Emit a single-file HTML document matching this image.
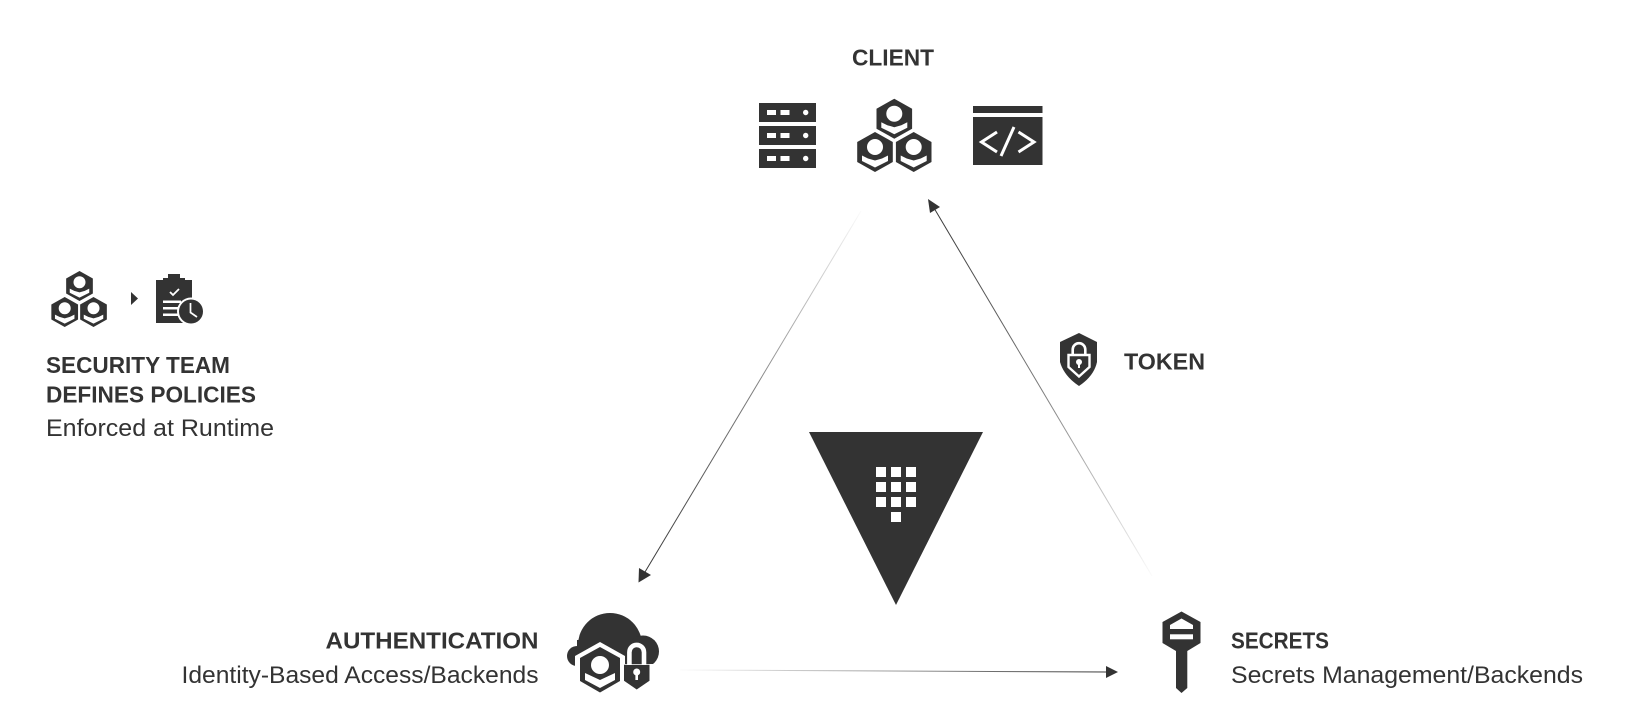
<!DOCTYPE html>
<html>
<head>
<meta charset="utf-8">
<style>
html,body{margin:0;padding:0;background:#fff;width:1627px;height:714px;overflow:hidden}
svg{display:block}
text{font-family:"Liberation Sans",sans-serif;fill:#333}
.b{font-weight:bold;font-size:23px}
.r{font-size:24px}
</style>
</head>
<body>
<svg width="1627" height="714" viewBox="0 0 1627 714" xmlns="http://www.w3.org/2000/svg">
<defs>
<linearGradient id="g1" gradientUnits="userSpaceOnUse" x1="861" y1="211" x2="639" y2="581"><stop offset="0" stop-color="#333" stop-opacity="0.02"/><stop offset="0.5" stop-color="#333" stop-opacity="0.65"/><stop offset="1" stop-color="#333"/></linearGradient>
<linearGradient id="g2" gradientUnits="userSpaceOnUse" x1="1152" y1="576" x2="929" y2="199"><stop offset="0" stop-color="#333" stop-opacity="0.02"/><stop offset="0.5" stop-color="#333" stop-opacity="0.65"/><stop offset="1" stop-color="#333"/></linearGradient>
<linearGradient id="g3" gradientUnits="userSpaceOnUse" x1="680" y1="670" x2="1118" y2="672"><stop offset="0" stop-color="#333" stop-opacity="0.02"/><stop offset="0.5" stop-color="#333" stop-opacity="0.5"/><stop offset="1" stop-color="#333"/></linearGradient>
<g id="hex">
<polygon points="0,-20 17.8,-10 17.8,10 0,20 -17.8,10 -17.8,-10" fill="#333"/>
<circle cx="0" cy="-5" r="8" fill="#fff"/>
<polygon points="-13,3.500 -7,6.500 0,8.500 7,6.500 13,3.500 13,9 0,15.500 -13,9" fill="#fff"/>
</g>
</defs>

<!-- connectors -->
<line x1="861" y1="211" x2="645" y2="572" stroke="url(#g1)" stroke-width="1"/>
<polygon points="638.500,582.500 639,568 651,575" fill="#333"/>
<line x1="1152" y1="576" x2="934" y2="208" stroke="url(#g2)" stroke-width="1"/>
<polygon points="928,199 940,207 930,213" fill="#333"/>
<line x1="680" y1="670" x2="1108" y2="672" stroke="url(#g3)" stroke-width="1"/>
<polygon points="1118,672 1106,666 1106,678" fill="#333"/>

<!-- client -->
<text class="b" x="852" y="65.500" textLength="82" lengthAdjust="spacingAndGlyphs">CLIENT</text>
<g fill="#333">
<rect x="759" y="103" width="57" height="19"/>
<rect x="759" y="126" width="57" height="19"/>
<rect x="759" y="149" width="57" height="19"/>
</g>
<g fill="#fff">
<rect x="767" y="110" width="9" height="5"/><rect x="780.500" y="110" width="9" height="5"/><circle cx="805.700" cy="112.500" r="2.700"/>
<rect x="767" y="133" width="9" height="5"/><rect x="780.500" y="133" width="9" height="5"/><circle cx="805.700" cy="135.500" r="2.700"/>
<rect x="767" y="156" width="9" height="5"/><rect x="780.500" y="156" width="9" height="5"/><circle cx="805.700" cy="158.500" r="2.700"/>
</g>
<use href="#hex" transform="translate(894.300,118.700)"/>
<use href="#hex" transform="translate(875,152)"/>
<use href="#hex" transform="translate(913.700,152)"/>
<rect x="973" y="106" width="69.500" height="7" fill="#333"/>
<rect x="973" y="117" width="69.500" height="48" fill="#333"/>
<g fill="none" stroke="#fff" stroke-width="3">
<polyline points="997,132 981.500,142 997,152"/>
<polyline points="1018.500,132 1034,142 1018.500,152"/>
<line x1="1014" y1="127" x2="1001" y2="156"/>
</g>

<!-- left policy group -->
<use href="#hex" transform="translate(79.500,286) scale(.75)"/>
<use href="#hex" transform="translate(64.700,312) scale(.75)"/>
<use href="#hex" transform="translate(93.500,312) scale(.75)"/>
<polygon points="131,292 138,298.500 131,305" fill="#333"/>
<rect x="156" y="280" width="36" height="43" fill="#333"/>
<rect x="168" y="274" width="12" height="6" fill="#333"/>
<rect x="163" y="278" width="22" height="5" fill="#333"/>
<polyline points="170,292 173,295 179,289" fill="none" stroke="#fff" stroke-width="1.800"/>
<rect x="163" y="300.500" width="18" height="2.500" fill="#fff"/>
<rect x="163" y="307" width="15" height="2.500" fill="#fff"/>
<rect x="163" y="313.500" width="15" height="2.500" fill="#fff"/>
<circle cx="191" cy="311.500" r="14" fill="#fff"/>
<circle cx="191" cy="311.500" r="12" fill="#333"/>
<polyline points="190.500,303 190.500,312.500 197,317" fill="none" stroke="#fff" stroke-width="1.700"/>
<text class="b" x="46" y="373" textLength="184" lengthAdjust="spacingAndGlyphs">SECURITY TEAM</text>
<text class="b" x="46" y="402.500" textLength="210" lengthAdjust="spacingAndGlyphs">DEFINES POLICIES</text>
<text class="r" x="46" y="436" textLength="228" lengthAdjust="spacingAndGlyphs">Enforced at Runtime</text>

<!-- token -->
<path d="M1079,333 L1097,342 V362 Q1094,376 1079,386 Q1064,376 1060,362 V342 Z" fill="#333"/>
<path d="M1068.500,355 H1089.500 V367 L1079,376.500 L1068.500,367 Z" fill="none" stroke="#fff" stroke-width="2.400"/>
<path d="M1072.700,355 V349.500 A6.300,6.300 0 0 1 1085.300,349.500 V355" fill="none" stroke="#fff" stroke-width="2.600"/>
<circle cx="1079" cy="362" r="3" fill="#fff"/>
<rect x="1078" y="362" width="2" height="6" fill="#fff"/>
<text class="b" x="1124" y="369.500" textLength="81" lengthAdjust="spacingAndGlyphs">TOKEN</text>

<!-- vault -->
<polygon points="809,432 983,432 896,605" fill="#333"/>
<g fill="#fff">
<rect x="876" y="467" width="10" height="10"/><rect x="891" y="467" width="10" height="10"/><rect x="906" y="467" width="10" height="10"/>
<rect x="876" y="482" width="10" height="10"/><rect x="891" y="482" width="10" height="10"/><rect x="906" y="482" width="10" height="10"/>
<rect x="876" y="497" width="10" height="10"/><rect x="891" y="497" width="10" height="10"/><rect x="906" y="497" width="10" height="10"/>
<rect x="891" y="512" width="10" height="10"/>
</g>

<!-- auth -->
<text class="b" x="538.500" y="648.500" text-anchor="end" textLength="213" lengthAdjust="spacingAndGlyphs">AUTHENTICATION</text>
<text class="r" x="538.500" y="683" text-anchor="end" textLength="357" lengthAdjust="spacingAndGlyphs">Identity-Based Access/Backends</text>
<g fill="#333">
<circle cx="610" cy="645" r="32"/>
<circle cx="577" cy="656" r="10"/>
<circle cx="643" cy="651.500" r="16"/>
<rect x="577" y="640" width="66" height="26"/>
</g>
<rect x="565" y="666" width="100" height="40" fill="#fff"/>
<polygon points="600,642 625,656 625,684 600,698 575,684 575,656" fill="#fff"/>
<polygon points="600,647 620,658 620,681 600,692.500 580,681 580,658" fill="#333"/>
<circle cx="600" cy="665" r="9" fill="#fff"/>
<polygon points="585,673 600,680 615,673 615,680 600,688 585,680" fill="#fff"/>
<polygon points="620.500,664 653,664 653,682 636.700,694 620.500,682" fill="#fff"/>
<path d="M624,664.700 H649.500 V680.700 L636.700,689.500 L624,680.700 Z" fill="#333"/>
<path d="M629.400,665 V652.200 A7.300,7.300 0 0 1 644,652.200 V665" fill="none" stroke="#fff" stroke-width="4.600"/>
<circle cx="636.700" cy="672" r="3.500" fill="#fff"/>
<rect x="635.400" y="673" width="2.600" height="7" fill="#fff"/>

<!-- secrets -->
<polygon points="1181.500,611.500 1200.500,622 1200.500,643 1187.300,651 1187.300,688 1181.500,693 1176,688 1176,651 1162.500,643 1162.500,622" fill="#333"/>
<polygon points="1181.500,618.500 1170,625 1170,629 1193,629 1193,625" fill="#fff"/>
<rect x="1170" y="634.300" width="23" height="5" fill="#fff"/>
<text class="b" x="1231" y="648.500" textLength="98" lengthAdjust="spacingAndGlyphs">SECRETS</text>
<text class="r" x="1231" y="683" textLength="352" lengthAdjust="spacingAndGlyphs">Secrets Management/Backends</text>
</svg>
</body>
</html>
